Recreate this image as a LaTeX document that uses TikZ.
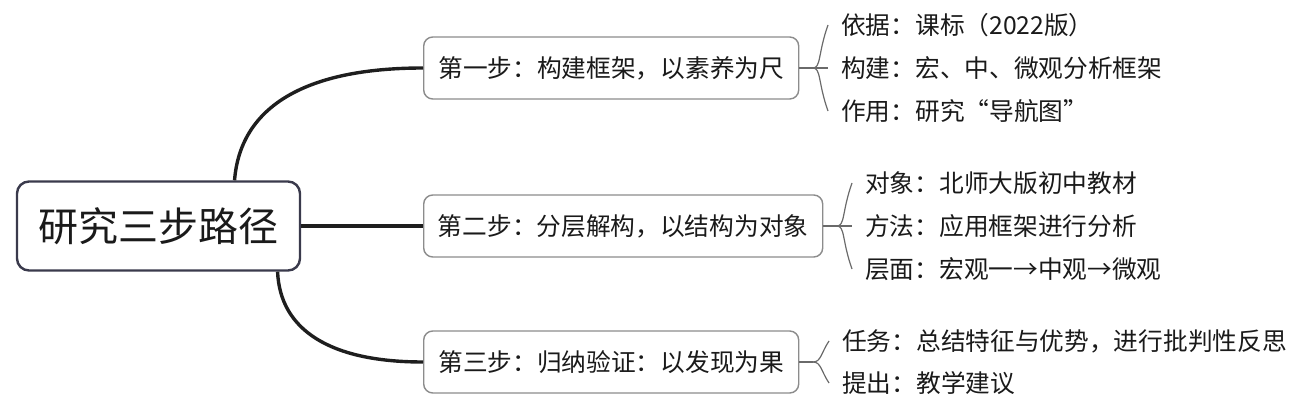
\documentclass[tikz,border=0pt]{standalone}
\usepackage{fontspec}
\setmainfont{Noto Sans CJK SC}
\usepackage{tikz}

\definecolor{rootline}{HTML}{3A3A4C}
\definecolor{boxline}{HTML}{8C8C8C}
\definecolor{branchcol}{HTML}{1E1E1E}
\definecolor{twigcol}{HTML}{6A6A6A}
\definecolor{ink}{HTML}{1A1A1A}

\begin{document}
\begin{tikzpicture}[x=1pt, y=1pt,
  rootbox/.style={draw=rootline, line width=2.4pt, rounded corners=12pt, fill=white,
    minimum width=283pt, minimum height=89pt, inner sep=0pt, text=ink,
    font=\fontsize{40}{48}\selectfont},
  stepbox/.style={draw=boxline, line width=1.4pt, rounded corners=9pt, fill=white,
    anchor=west, minimum height=62pt, inner sep=0pt, text=ink,
    font=\fontsize{24.7}{30}\selectfont},
  leaf/.style={anchor=west, inner xsep=13pt, inner ysep=0pt, text=ink,
    font=\fontsize{24.7}{30}\selectfont},
  branch/.style={draw=branchcol, line width=3.4pt},
  twig/.style={draw=twigcol, line width=1.2pt}]
\useasboundingbox (0, 0) rectangle (1301, 410);

\node[rootbox] (root) at (158.5, 184) {研究三步路径};

\node[stepbox, minimum width=375pt] (step1) at (423, 342) {第一步：构建框架，以素养为尺};
\node[stepbox, minimum width=399pt] (step2) at (423, 184) {第二步：分层解构，以结构为对象};
\node[stepbox, minimum width=375pt] (step3) at (423, 48) {第三步：归纳验证：以发现为果};

\draw[branch] (root.31) .. controls (240, 300) and (300, 342) .. (step1.west);
\draw[branch] (root.east) -- (step2.west);
\draw[branch] (root.-21.4) .. controls (280, 80) and (330, 48) .. (step3.west);

\node[leaf] (basis) at (828, 385) {依据：课标（2022版）};
\node[leaf] (build) at (828, 342) {构建：宏、中、微观分析框架};
\node[leaf] (role) at (828, 299) {作用：研究“导航图”};

\node[leaf] (object) at (852, 227) {对象：北师大版初中教材};
\node[leaf] (method) at (852, 184) {方法：应用框架进行分析};
\node[leaf] (level) at (852, 141) {层面：宏观一→中观→微观};

\node[leaf] (task) at (829, 69) {任务：总结特征与优势，进行批判性反思};
\node[leaf] (advice) at (829, 27) {提出：教学建议};

\coordinate (j1) at (813, 342);
\coordinate (j2) at (837, 184);
\coordinate (j3) at (813, 48);

\draw[twig] (step1.east) -- (j1) -- (build.west);
\draw[twig] (j1) .. controls +(8, 0) and +(-10, -28) .. (basis.west);
\draw[twig] (j1) .. controls +(8, 0) and +(-10, 28) .. (role.west);

\draw[twig] (step2.east) -- (j2) -- (method.west);
\draw[twig] (j2) .. controls +(8, 0) and +(-10, -28) .. (object.west);
\draw[twig] (j2) .. controls +(8, 0) and +(-10, 28) .. (level.west);

\draw[twig] (step3.east) -- (j3);
\draw[twig] (j3) .. controls +(8, 0) and +(-8, -12) .. (task.west);
\draw[twig] (j3) .. controls +(8, 0) and +(-8, 12) .. (advice.west);
\end{tikzpicture}
\end{document}
